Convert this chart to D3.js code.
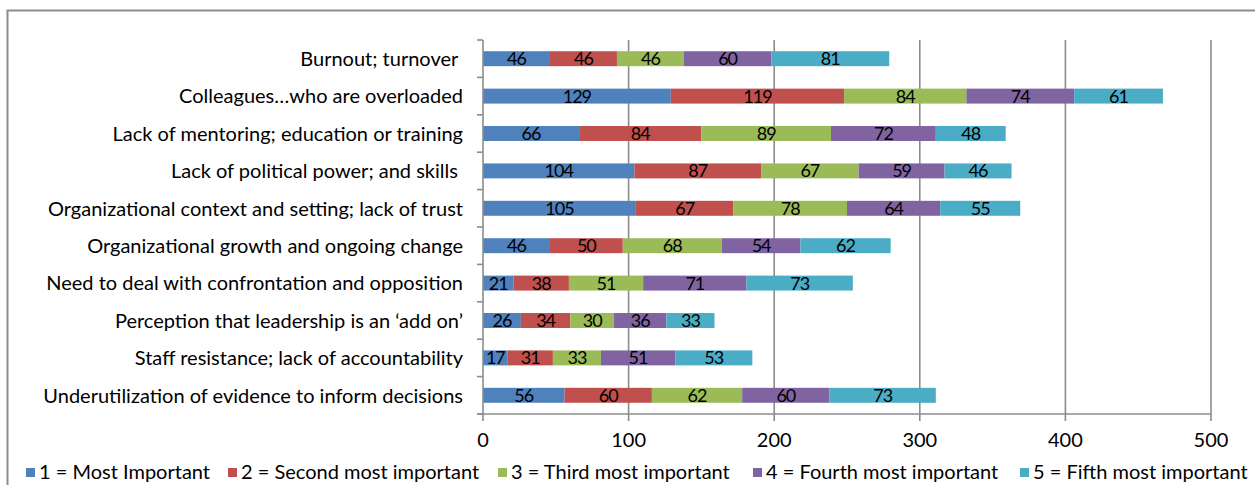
<!DOCTYPE html>
<html>
<head>
<meta charset="utf-8">
<script src="https://cdn.jsdelivr.net/npm/d3@7"></script>
<style>
  html, body { margin: 0; padding: 0; background: #fff; }
  svg { display: block; font-family: Lato, "Open Sans", sans-serif; }
  text { white-space: pre; }
</style>
</head>
<body>
<svg id="chart" width="1255" height="485"></svg>
<script>
// Barriers, ranked by importance (counts of responses)
const categories = [
  "Burnout; turnover ",
  "Colleagues\u2026who are overloaded",
  "Lack of mentoring; education or training",
  "Lack of political power; and skills ",
  "Organizational context and setting; lack of trust",
  "Organizational growth and ongoing change",
  "Need to deal with confrontation and opposition",
  "Perception that leadership is an \u2018add on\u2019",
  "Staff resistance; lack of accountability",
  "Underutilization of evidence to inform decisions"
];
const seriesNames = [
  "1 = Most Important",
  "2 = Second most important",
  "3 = Third most important",
  "4 = Fourth most important",
  "5 = Fifth most important"
];
const rank1 = [46, 129, 66, 104, 105, 46, 21, 26, 17, 56];
const rank2 = [46, 119, 84, 87, 67, 50, 38, 34, 31, 60];
const rank3 = [46, 84, 89, 67, 78, 68, 51, 30, 33, 62];
const rank4 = [60, 74, 72, 59, 64, 54, 71, 36, 51, 60];
const rank5 = [81, 61, 48, 46, 55, 62, 73, 33, 53, 73];
const xTicks = [0, 100, 200, 300, 400, 500];
const colors = ["#4F81BD", "#C0504D", "#9BBB59", "#8064A2", "#4BACC6"];

const seriesValues = [rank1, rank2, rank3, rank4, rank5];
const rows = categories.map((c, i) => {
  const r = { category: c };
  seriesNames.forEach((s, j) => { r[s] = seriesValues[j][i]; });
  return r;
});
const stacked = d3.stack().keys(seriesNames)(rows);

const svg = d3.select("#chart");
const margin = { left: 483, right: 44, top: 40, bottom: 71 };
const W = 1255, H = 485;

// outer frame
svg.append("rect")
  .attr("x", 7.5).attr("y", 10.5)
  .attr("width", 1300).attr("height", 600)
  .attr("fill", "none").attr("stroke", "#8c8c8c").attr("stroke-width", 2);

const x = d3.scaleLinear().domain([0, 500]).range([margin.left, W - margin.right]);
const y = d3.scaleBand().domain(categories)
  .range([margin.top, H - margin.bottom]).paddingInner(0.6).paddingOuter(0.3);
const yAxisScale = d3.scaleBand().domain(categories).range([margin.top, H - margin.bottom]);

// vertical gridlines
svg.append("g").selectAll("line")
  .data(xTicks.slice(1))
  .join("line")
  .attr("x1", d => x(d)).attr("x2", d => x(d))
  .attr("y1", margin.top).attr("y2", H - margin.bottom)
  .attr("stroke", "#8c8c8c").attr("stroke-width", 1.6);

// bars
const layer = svg.append("g").selectAll("g")
  .data(stacked)
  .join("g")
  .attr("fill", (d, i) => colors[i]);

layer.selectAll("rect")
  .data(d => d)
  .join("rect")
  .attr("x", d => x(d[0]))
  .attr("y", d => y(d.data.category))
  .attr("width", d => x(d[1]) - x(d[0]))
  .attr("height", y.bandwidth());

// segment value labels
layer.selectAll("text")
  .data(d => d.map(v => ({ v, key: d.key })))
  .join("text")
  .attr("x", d => (x(d.v[0]) + x(d.v[1])) / 2)
  .attr("y", d => y(d.v.data.category) + y.bandwidth() / 2)
  .attr("dy", "0.36em")
  .attr("text-anchor", "middle")
  .attr("fill", "#000")
  .style("font-size", "18px")
  .style("letter-spacing", "-1px")
  .text(d => d.v.data[d.key]);

// category axis
const yAxis = svg.append("g").attr("transform", `translate(${margin.left},0)`);
yAxis.append("line")
  .attr("x1", 0).attr("x2", 0)
  .attr("y1", margin.top).attr("y2", H - margin.bottom)
  .attr("stroke", "#8c8c8c").attr("stroke-width", 1.6);
const bounds = categories.map(c => yAxisScale(c)).concat([H - margin.bottom]);
yAxis.selectAll("line.tick")
  .data(bounds)
  .join("line")
  .attr("class", "tick")
  .attr("x1", -6).attr("x2", 0)
  .attr("y1", d => d).attr("y2", d => d)
  .attr("stroke", "#8c8c8c").attr("stroke-width", 1.6);
yAxis.selectAll("text")
  .data(categories)
  .join("text")
  .attr("x", -20)
  .attr("y", d => yAxisScale(d) + yAxisScale.bandwidth() / 2)
  .attr("dy", "0.36em")
  .attr("text-anchor", "end")
  .attr("fill", "#000")
  .style("font-size", "20px")
  .text(d => d);

// value axis
const xAxis = svg.append("g").attr("transform", `translate(0,${H - margin.bottom})`);
xAxis.append("line")
  .attr("x1", x(0) - 6).attr("x2", x(500))
  .attr("stroke", "#8c8c8c").attr("stroke-width", 1.6);
xAxis.selectAll("line.tick")
  .data(xTicks)
  .join("line")
  .attr("class", "tick")
  .attr("x1", d => x(d)).attr("x2", d => x(d))
  .attr("y1", 0).attr("y2", 7)
  .attr("stroke", "#8c8c8c").attr("stroke-width", 1.6);
xAxis.selectAll("text")
  .data(xTicks)
  .join("text")
  .attr("x", d => x(d))
  .attr("y", 33)
  .attr("text-anchor", "middle")
  .attr("fill", "#000")
  .style("font-size", "20px")
  .text(d => d);

// legend
const legendX = [26, 228, 498, 753, 1020];
const legend = svg.append("g").selectAll("g")
  .data(seriesNames)
  .join("g")
  .attr("transform", (d, i) => `translate(${legendX[i]},472)`);
legend.append("rect")
  .attr("x", 0).attr("y", -4).attr("width", 9).attr("height", 9)
  .attr("fill", (d, i) => colors[i]);
legend.append("text")
  .attr("x", 13).attr("y", 0)
  .attr("dy", "0.36em")
  .attr("fill", "#000")
  .style("font-size", "20px")
  .text(d => d);
</script>
</body>
</html>
